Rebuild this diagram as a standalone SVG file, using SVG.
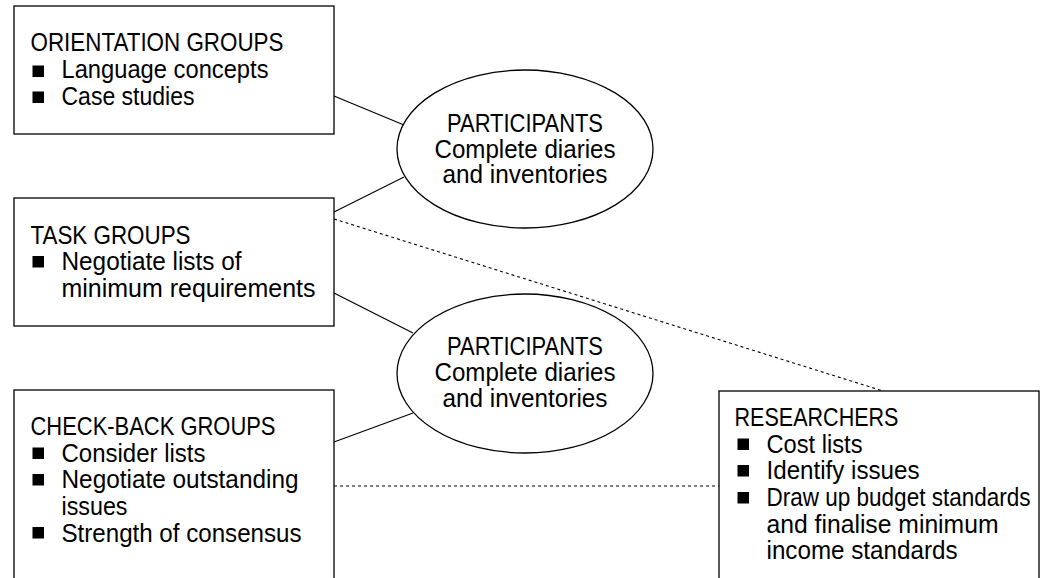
<svg xmlns="http://www.w3.org/2000/svg" width="1044" height="578" viewBox="0 0 1044 578">
<style>
.box{fill:#fff;stroke:#000;stroke-width:1.3}
.ell{fill:#fff;stroke:#000;stroke-width:1.3}
.ln{stroke:#000;stroke-width:1.2;fill:none}
.dot{stroke:#000;stroke-width:1.1;fill:none;stroke-dasharray:3 3}
.t{font-family:"Liberation Sans",Arial,sans-serif;font-size:25.5px;fill:#000}
.c{text-anchor:middle}
.b{fill:#000}
</style>
<rect width="1044" height="578" fill="#fff"/>
<g id="connectors">
<line class="ln" x1="334" y1="96" x2="404" y2="125"/>
<line class="ln" x1="334" y1="212" x2="404" y2="177"/>
<line class="dot" x1="334" y1="219" x2="883" y2="391"/>
<line class="ln" x1="334" y1="293" x2="413" y2="333"/>
<line class="ln" x1="334" y1="442" x2="413" y2="413"/>
<line class="dot" x1="334" y1="486" x2="719" y2="486"/>
</g>
<g id="orientation">
<rect class="box" x="14" y="6" width="320" height="128"/>
<text class="t" x="30.5" y="51" textLength="253" lengthAdjust="spacingAndGlyphs">ORIENTATION GROUPS</text>
<rect class="b" x="32.5" y="65.5" width="11.5" height="11.5"/>
<text class="t" x="61.5" y="78" textLength="207" lengthAdjust="spacingAndGlyphs">Language concepts</text>
<rect class="b" x="32.5" y="91.5" width="11.5" height="11.5"/>
<text class="t" x="61.5" y="104.5" textLength="133" lengthAdjust="spacingAndGlyphs">Case studies</text>
</g>
<g id="participants1">
<ellipse class="ell" cx="525" cy="149" rx="128" ry="79"/>
<text class="t c" x="525" y="132" textLength="156" lengthAdjust="spacingAndGlyphs">PARTICIPANTS</text>
<text class="t c" x="525" y="157.5" textLength="181" lengthAdjust="spacingAndGlyphs">Complete diaries</text>
<text class="t c" x="525" y="183" textLength="165" lengthAdjust="spacingAndGlyphs">and inventories</text>
</g>
<g id="task">
<rect class="box" x="14" y="198" width="320" height="128"/>
<text class="t" x="30.5" y="243.5" textLength="160" lengthAdjust="spacingAndGlyphs">TASK GROUPS</text>
<rect class="b" x="32.5" y="256" width="11.5" height="11.5"/>
<text class="t" x="61.5" y="270" textLength="180" lengthAdjust="spacingAndGlyphs">Negotiate lists of</text>
<text class="t" x="61.5" y="296.5" textLength="254" lengthAdjust="spacingAndGlyphs">minimum requirements</text>
</g>
<g id="participants2">
<ellipse class="ell" cx="525" cy="373.5" rx="128" ry="79.5"/>
<text class="t c" x="525" y="354.5" textLength="156" lengthAdjust="spacingAndGlyphs">PARTICIPANTS</text>
<text class="t c" x="525" y="380.5" textLength="181" lengthAdjust="spacingAndGlyphs">Complete diaries</text>
<text class="t c" x="525" y="407" textLength="165" lengthAdjust="spacingAndGlyphs">and inventories</text>
</g>
<g id="checkback">
<rect class="box" x="14" y="390" width="320" height="200"/>
<text class="t" x="30.5" y="435" textLength="245" lengthAdjust="spacingAndGlyphs">CHECK-BACK GROUPS</text>
<rect class="b" x="32.5" y="447.5" width="11.5" height="11.5"/>
<text class="t" x="61.5" y="461.5" textLength="144" lengthAdjust="spacingAndGlyphs">Consider lists</text>
<rect class="b" x="32.5" y="474" width="11.5" height="11.5"/>
<text class="t" x="61.5" y="488" textLength="237" lengthAdjust="spacingAndGlyphs">Negotiate outstanding</text>
<text class="t" x="61.5" y="514.5" textLength="66" lengthAdjust="spacingAndGlyphs">issues</text>
<rect class="b" x="32.5" y="527" width="11.5" height="11.5"/>
<text class="t" x="61.5" y="541.5" textLength="240" lengthAdjust="spacingAndGlyphs">Strength of consensus</text>
</g>
<g id="researchers">
<rect class="box" x="719" y="391" width="320" height="200"/>
<text class="t" x="734.5" y="426" textLength="164" lengthAdjust="spacingAndGlyphs">RESEARCHERS</text>
<rect class="b" x="737.5" y="438.5" width="11.5" height="11.5"/>
<text class="t" x="766.5" y="452.5" textLength="96" lengthAdjust="spacingAndGlyphs">Cost lists</text>
<rect class="b" x="737.5" y="465" width="11.5" height="11.5"/>
<text class="t" x="766.5" y="479" textLength="153" lengthAdjust="spacingAndGlyphs">Identify issues</text>
<rect class="b" x="737.5" y="492" width="11.5" height="11.5"/>
<text class="t" x="766.5" y="506" textLength="264" lengthAdjust="spacingAndGlyphs">Draw up budget standards</text>
<text class="t" x="766.5" y="532.5" textLength="232" lengthAdjust="spacingAndGlyphs">and finalise minimum</text>
<text class="t" x="766.5" y="559" textLength="191" lengthAdjust="spacingAndGlyphs">income standards</text>
</g>
</svg>
